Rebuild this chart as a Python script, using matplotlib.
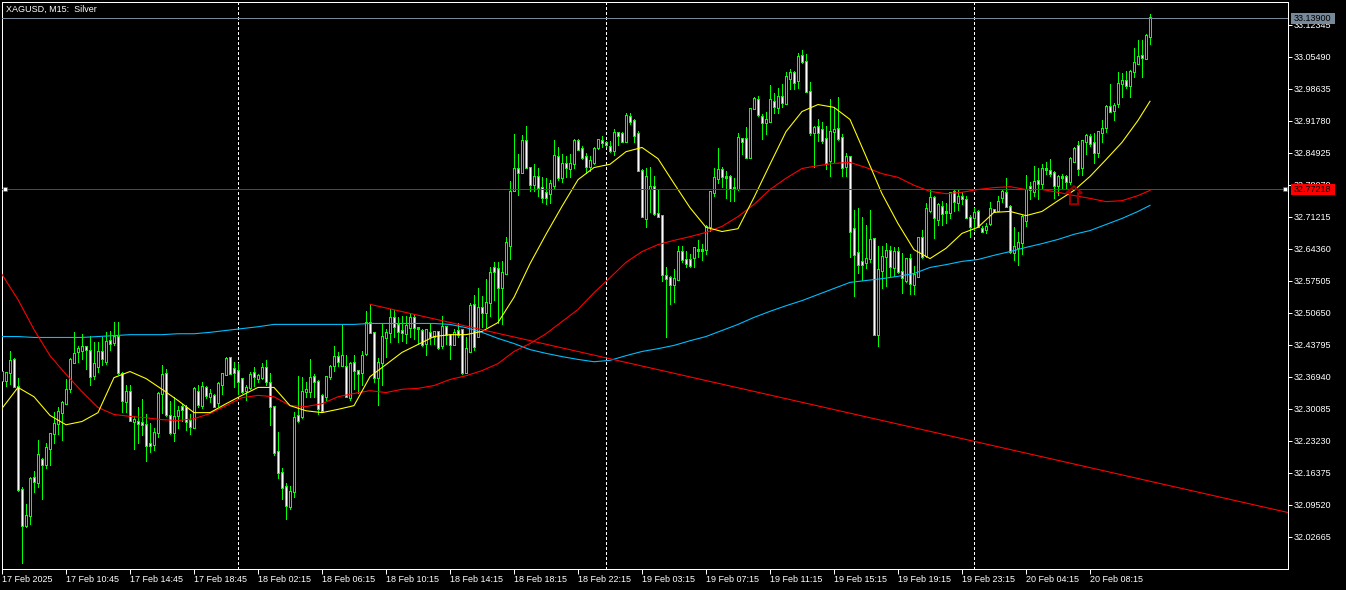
import matplotlib
matplotlib.use("Agg")
import matplotlib.pyplot as plt
from matplotlib.path import Path
from matplotlib.patches import Rectangle, PathPatch
from matplotlib.transforms import IdentityTransform
import numpy as np

# Prices are stored in thousandths above 32.000
BASE = 32.0
highs = [385,379,424,409,368,133,98,156,169,235,195,227,250,295,304,317,
366,411,465,435,462,435,458,445,445,454,465,467,488,488,379,353,
353,285,306,323,289,270,259,338,394,387,317,327,308,312,310,289,
347,353,358,349,343,332,358,377,413,411,402,400,366,353,379,390,
375,400,405,377,306,252,175,143,135,295,372,370,358,407,375,362,
332,370,394,435,422,480,417,402,417,385,426,510,525,465,411,482,
473,514,512,497,499,501,507,503,477,473,473,486,467,467,499,477,
460,473,486,471,454,527,544,559,542,580,604,615,615,617,670,790,
889,848,887,906,818,825,816,797,795,792,878,863,848,842,846,880,
880,865,850,842,861,880,885,874,874,900,895,895,934,934,921,897,
814,818,820,799,773,715,604,585,600,649,649,640,632,647,662,655,
694,767,816,859,820,810,803,795,891,882,904,944,970,972,932,938,
994,977,989,996,1022,1030,1024,1064,1069,1062,1002,908,923,915,906,964,
947,970,889,850,842,728,732,713,696,726,668,651,649,657,649,647,
647,636,625,632,608,670,685,743,771,756,741,747,743,765,769,771,
765,756,717,732,726,692,700,745,730,756,773,795,737,690,681,717,
801,788,822,816,825,829,837,810,801,805,803,840,863,874,878,889,
889,891,897,919,951,998,957,1022,1020,1024,1026,1075,1092,1092,1105,1148]
lows = [355,349,355,347,126,-30,49,54,122,133,109,175,180,229,248,235,
312,338,400,402,407,387,353,364,381,396,398,428,437,375,295,295,
274,216,227,246,190,208,212,240,293,285,248,233,261,274,255,248,
261,306,302,325,315,306,308,332,375,375,347,332,334,319,343,351,
358,364,353,267,203,154,107,66,86,113,272,282,327,327,327,291,
295,319,364,383,392,394,327,319,343,336,353,417,465,358,310,353,
413,445,456,445,447,443,454,450,439,435,417,439,439,430,432,439,
407,439,454,375,377,424,428,456,477,477,499,535,486,482,591,623,
767,760,807,818,767,767,756,745,739,743,773,792,786,797,797,818,
857,837,807,810,825,857,861,865,852,844,867,874,874,912,872,812,
713,690,722,717,713,574,454,525,531,578,615,606,604,606,627,619,
632,683,758,784,777,752,747,747,769,848,840,840,944,929,880,889,
917,934,934,947,955,987,987,989,1041,981,887,820,874,870,814,799,
829,878,799,799,627,542,593,578,602,615,460,435,561,565,585,585,
593,550,572,548,548,585,625,627,722,668,696,694,700,711,724,726,
739,709,670,685,692,679,677,696,722,724,745,735,636,621,610,632,
692,750,756,750,771,805,799,752,760,775,771,782,829,803,803,846,
865,827,840,872,895,936,919,947,970,989,970,1011,1039,1011,1052,1082]
opens = [362,362,379,407,349,128,51,73,154,143,193,182,216,248,270,293,
312,345,400,424,426,435,426,372,392,424,402,447,443,456,377,317,
338,274,274,272,267,227,225,250,334,377,287,250,287,306,304,276,
261,338,308,347,327,330,315,353,375,411,387,383,366,340,347,379,
366,368,390,358,306,210,165,135,92,124,287,285,338,338,370,360,
330,327,370,394,413,394,392,325,400,383,379,420,486,465,368,400,
454,465,497,482,469,462,475,497,475,469,441,465,456,467,437,477,
460,439,469,471,379,424,525,456,518,507,529,604,602,561,591,651,
769,816,807,876,818,782,799,775,765,762,780,842,797,827,816,827,
876,859,842,820,829,861,876,872,863,855,893,891,874,927,919,891,
812,709,773,777,720,715,587,582,567,578,638,621,621,625,642,642,
642,692,765,795,814,799,799,775,773,880,880,840,944,964,927,915,
917,960,947,970,955,1009,1022,1004,1058,1045,981,893,906,900,880,833,
895,902,882,820,842,687,636,617,615,623,666,460,597,627,640,604,
638,595,576,623,567,585,668,630,726,754,707,735,722,722,767,743,
756,750,711,711,724,687,685,698,728,726,754,765,735,636,647,657,
705,777,767,790,784,816,812,807,780,799,799,788,831,865,818,874,
885,872,850,893,904,949,940,955,998,1004,994,1024,1041,1058,1052,1099]
closes = [381,379,405,349,128,51,73,152,145,203,182,218,248,270,295,315,
343,407,420,430,435,428,370,398,424,409,445,441,456,379,319,338,
276,278,270,267,223,223,250,334,375,289,250,285,297,300,274,263,
345,310,349,330,334,306,355,377,409,377,379,360,338,347,375,370,
372,390,360,306,208,165,133,94,124,282,276,338,343,368,360,302,
297,370,392,413,402,415,327,398,383,377,415,486,465,368,400,456,
465,497,477,467,465,480,497,475,473,439,471,456,467,432,477,460,
439,465,460,379,430,522,435,518,507,529,593,595,561,593,657,767,
816,807,876,818,782,799,775,754,754,784,844,797,827,818,827,876,
857,840,820,833,859,878,872,867,855,893,887,874,929,917,887,812,
713,799,777,720,713,589,580,567,580,638,621,612,608,647,640,640,
692,767,797,814,799,797,773,773,882,874,840,944,966,932,915,921,
964,949,970,957,1013,1022,1000,1056,1045,981,893,904,893,876,829,895,
900,880,818,842,681,632,610,610,623,664,460,600,627,640,606,638,
595,582,623,570,589,668,627,730,754,711,739,720,724,765,745,756,
752,711,692,722,692,681,692,730,724,745,767,735,638,649,657,713,
771,771,788,784,816,814,805,780,799,797,788,837,859,816,876,887,
870,850,895,902,949,938,951,998,1004,994,1024,1043,1056,1054,1101,1139]

# Moving averages read every four bars (last point is the final bar)
ma_fast = [302,347,327,287,267,274,293,368,381,366,343,319,293,293,312,330,347,347,308,297,
293,300,308,370,396,422,439,456,460,460,467,486,540,612,675,735,792,818,825,852,
861,837,784,732,690,681,687,754,825,895,938,953,947,921,842,762,698,642,623,645,
677,690,722,724,715,724,747,769,799,835,872,919,960]
ma_mid = [589,535,471,415,375,338,304,289,285,282,278,276,280,291,308,325,330,327,308,306,
312,327,334,340,336,343,345,351,364,372,383,398,424,441,462,488,514,550,582,615,
638,653,662,670,679,692,713,739,771,795,816,822,827,829,818,805,797,780,767,762,
765,771,775,777,771,771,765,758,752,745,747,758,769]
ma_slow = [456,456,454,454,454,454,456,458,460,460,460,462,462,465,469,473,477,482,482,482,
482,482,482,484,484,484,484,484,482,475,465,452,441,428,420,413,407,402,405,415,
424,430,437,447,456,469,482,497,510,522,533,546,559,572,576,580,585,591,604,610,
617,621,630,638,647,655,664,675,683,696,709,724,737]

price_labels = ["33.12345","33.05490","32.98635","32.91780","32.84925","32.78070","32.71215",
"32.64360","32.57505","32.50650","32.43795","32.36940","32.30085","32.23230","32.16375",
"32.09520","32.02665"]
date_labels = ["17 Feb 2025","17 Feb 10:45","17 Feb 14:45","17 Feb 18:45","18 Feb 02:15",
"18 Feb 06:15","18 Feb 10:15","18 Feb 14:15","18 Feb 18:15","18 Feb 22:15","19 Feb 03:15",
"19 Feb 07:15","19 Feb 11:15","19 Feb 15:15","19 Feb 19:15","19 Feb 23:15","20 Feb 04:15",
"20 Feb 08:15"]
ask_price, bid_price = 33.13900, 32.77218
trend_bars, trend_prices = [92, 321.5], [32.525, 32.079]
session_bars = [59, 151, 243]
arrow_bar, arrow_price = 268, 32.778

GREEN, W, H = "#00ff00", 1346, 590
FONT = "Liberation Sans"
FS = 6.5
PX_PRICE = 0.0021422

def px(v): return v * 0.72  # pixel widths to points at dpi 100

o, c, hi, lo = [BASE + np.array(a) / 1000 for a in (opens, closes, highs, lows)]
bars = np.arange(len(o))

fig = plt.figure(figsize=(W / 100, H / 100), dpi=100, facecolor="black")
L, R, T, B = 2.0, 1288.0, 2.0, 569.0
ax = fig.add_axes([L / W, 1 - B / H, (R - L) / W, (B - T) / H], facecolor="black")
ax.set_xlim(0, (R - L) / 4)
ax.set_ylim(33.178 - PX_PRICE * (B + 0.5), 33.178 - PX_PRICE * (T + 0.5))
for s in ax.spines.values():
    s.set_color("white"); s.set_linewidth(px(1))

ax.set_yticks([float(p) for p in price_labels])
ax.set_yticklabels(price_labels)
ax.yaxis.tick_right()
ax.tick_params(axis="y", colors="white", length=px(4), width=px(1), pad=1.2, labelsize=FS, labelfontfamily=FONT)
ax.set_xticks(np.arange(len(date_labels)) * 16)
ax.set_xticklabels(date_labels, ha="left")
ax.tick_params(axis="x", colors="white", length=px(5), width=px(1), pad=0.5, labelsize=FS, labelfontfamily=FONT)

for b in session_bars:
    ax.axvline(b, color="white", lw=px(1), ls=(0, (2.5, 2.5)), zorder=1, antialiased=False)

ax.vlines(bars, lo, hi, color=GREEN, lw=px(1), zorder=2, antialiased=False, capstyle="butt")
bull = c >= o
tops, bots = np.maximum(o, c), np.minimum(o, c)
# outlined body: 3 px green column, then a 1 px inner column (black or white)
ax.vlines(bars, bots - PX_PRICE * 0.5, np.maximum(tops, bots + PX_PRICE) + PX_PRICE * 0.5, color=GREEN, lw=px(3),
          zorder=3, antialiased=False, capstyle="butt")
inner = (tops - bots) > PX_PRICE * 1.2
ax.vlines(bars[inner], bots[inner] + PX_PRICE * 0.5, tops[inner] - PX_PRICE * 0.5,
          colors=np.where(bull[inner], "black", "white"), lw=px(1), zorder=3.5, antialiased=False, capstyle="butt")

ma_bars = list(range(0, len(o), 4)) + [len(o) - 1]
for vals, col in ((ma_slow, "#00bfff"), (ma_mid, "#ff0000"), (ma_fast, "#ffff00")):
    ax.plot(ma_bars, BASE + np.array(vals) / 1000, color=col, lw=px(1.1), zorder=4)

ax.plot(trend_bars, trend_prices, color="#ff0000", lw=px(1.1), zorder=4)
ax.axhline(ask_price, color="#778899", lw=px(1), zorder=5)
ax.axhline(bid_price, color="#ff0000", lw=px(1), zorder=5)
ax.plot([0.75, 320.75], [bid_price] * 2, ls="", marker="s", ms=px(4), mfc="white", mec="red", mew=px(0.6), zorder=6)

# Wingdings-style up arrow, anchored on its bar, sized in pixels
ax0, ay0 = ax.transData.transform((arrow_bar, arrow_price))
arrow_shape = np.array([(0, 0), (8, -7), (4, -7), (4, -18), (-4, -18), (-4, -7), (-8, -7), (0, 0)], float)
ax.add_patch(PathPatch(Path(arrow_shape + [ax0, ay0], closed=True), transform=IdentityTransform(),
                       facecolor="none", edgecolor="#9a0000", lw=px(2), zorder=6, clip_on=False))

for (y0, col, txt) in ((13, "#778899", f"{ask_price:.5f}"), (184, "#ff0000", f"{bid_price:.5f}")):
    fig.add_artist(Rectangle((1291 / W, 1 - (y0 + 11) / H), 44 / W, 11 / H, transform=fig.transFigure,
                             facecolor=col, edgecolor="none", zorder=10))
    fig.text(1294 / W, 1 - (y0 + 5.5) / H, txt, color="black", fontsize=FS, family=FONT, va="center", ha="left", zorder=11)

fig.text(6 / W, 1 - 9 / H, "XAGUSD, M15:  Silver", color="white", fontsize=FS, family=FONT,
         va="center", ha="left", zorder=11)

fig.savefig("out.png", dpi=100, facecolor="black")
